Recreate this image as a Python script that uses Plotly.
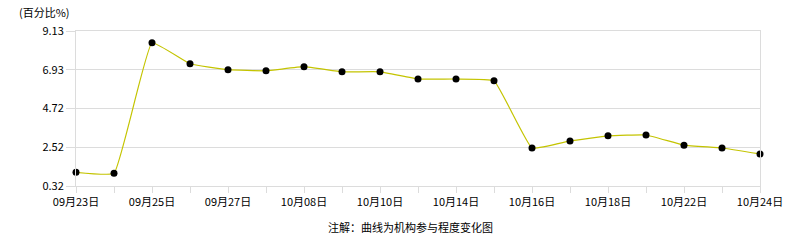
import plotly.graph_objects as go

dates = ["09月23日", "09月24日", "09月25日", "09月26日", "09月27日", "09月30日",
         "10月08日", "10月09日", "10月10日", "10月11日", "10月14日", "10月15日",
         "10月16日", "10月17日", "10月18日", "10月21日", "10月22日", "10月23日", "10月24日"]
values = [1.10, 1.04, 8.46, 7.27, 6.93, 6.87, 7.10, 6.81, 6.81, 6.40, 6.40, 6.30,
          2.48, 2.88, 3.17, 3.22, 2.64, 2.48, 2.14]
y_ticks = [0.32, 2.52, 4.72, 6.93, 9.13]
y_ticktext = ["0.32", "2.52", "4.72", "6.93", "9.13"]
x_ticktext = [d if i % 2 == 0 else "" for i, d in enumerate(dates)]

font_family = "Noto Sans CJK SC, DejaVu Sans, sans-serif"
grid = "#dcdcdc"

W, H = 786, 240
pl, pr, pt, pb = 76, 26, 31, 54
pw, ph = W - pl - pr, H - pt - pb

def px_x(x):
    return (x - pl) / pw

def px_y(y):
    return (H - pb - y) / ph

fig = go.Figure()
fig.add_trace(go.Scatter(
    x=dates, y=values, mode="lines+markers",
    line=dict(color="#c4c400", width=1.2, shape="spline", smoothing=0.3),
    marker=dict(color="#000000", size=7),
    cliponaxis=False, showlegend=False,
))

fig.update_layout(
    width=W, height=H,
    margin=dict(l=pl, r=pr, t=pt, b=pb, autoexpand=False),
    paper_bgcolor="white", plot_bgcolor="white",
    font=dict(family=font_family, size=11, color="#000000"),
    xaxis=dict(
        type="category", range=[0, len(dates) - 1], automargin=False,
        tickmode="array", tickvals=dates, ticktext=x_ticktext,
        ticks="outside", ticklen=6, tickcolor=grid, tickwidth=1,
        showline=True, linecolor=grid, linewidth=1, mirror=True,
        showgrid=False, zeroline=False,
        tickfont=dict(size=11), tickangle=0,
    ),
    yaxis=dict(
        range=[0.32, 9.13], automargin=False,
        tickmode="array", tickvals=y_ticks, ticktext=y_ticktext,
        ticks="outside", ticklen=9, tickcolor=grid, tickwidth=1,
        showline=True, linecolor=grid, linewidth=1, mirror=True,
        showgrid=True, gridcolor=grid, gridwidth=1, zeroline=False,
        tickfont=dict(size=11),
    ),
    annotations=[
        dict(text="(百分比%)", x=px_x(44), y=px_y(12), xref="paper", yref="paper",
             xanchor="center", yanchor="middle", showarrow=False, font=dict(size=11)),
        dict(text="注解：曲线为机构参与程度变化图", x=px_x(410), y=px_y(227),
             xref="paper", yref="paper", xanchor="center", yanchor="middle",
             showarrow=False, font=dict(size=11)),
    ],
)

fig.write_html("out.html")
